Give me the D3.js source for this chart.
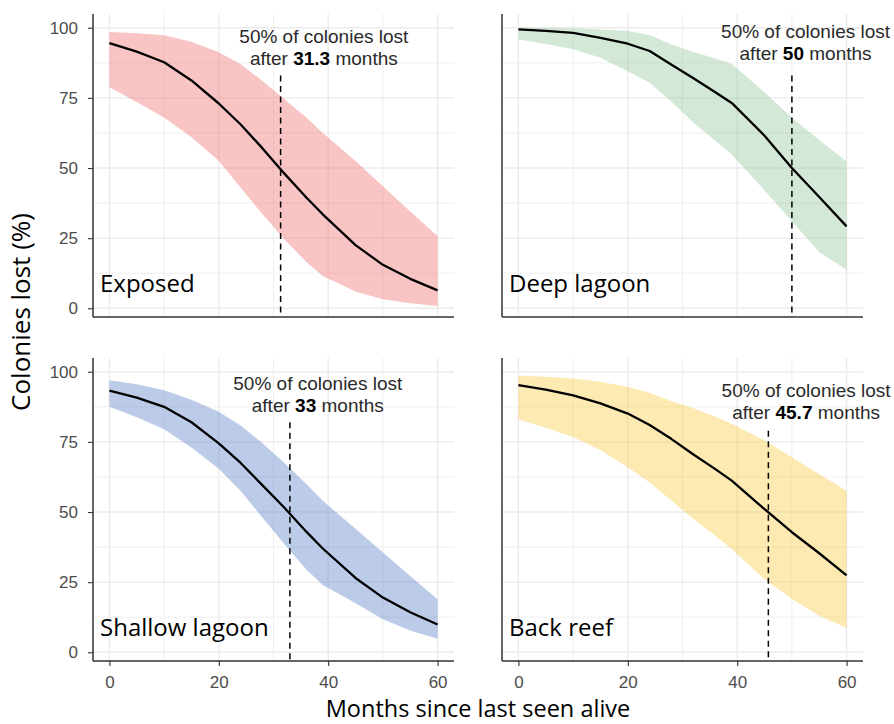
<!DOCTYPE html>
<html>
<head>
<meta charset="utf-8">
<script src="https://cdn.jsdelivr.net/npm/d3@7"></script>
<style>
  body { margin: 0; background: #fff; }
  svg { display: block; }
</style>
</head>
<body>
<svg id="chart" width="894" height="724"></svg>
<script>
// months at which the fitted curves were read
var months = [0, 5, 10, 15, 20, 24, 28, 32, 36, 39, 45, 50, 55, 60];

var habitats = ["Exposed", "Deep lagoon", "Shallow lagoon", "Back reef"];
var halfLife = [31.3, 50, 33, 45.7];

// % colonies lost: fitted value, lower and upper band
var exposedFit  = [94.5, 91.5, 87.7, 81.2, 73, 65.5, 57, 48, 39.5, 33.5, 22.5, 15.5, 10.5, 6.4];
var exposedLow  = [78.8, 73.5, 68, 61, 52.6, 43, 33.5, 24.5, 16.5, 11.5, 6, 3.2, 1.8, 0.8];
var exposedHigh = [98.5, 98, 97.3, 95, 91.3, 87, 81, 74.5, 68, 62.5, 52.5, 43.5, 34.5, 25.8];

var deepFit  = [99.4, 98.9, 98.2, 96.4, 94.3, 91.7, 86.8, 82, 77, 73.2, 61.5, 50, 39.7, 29.2];
var deepLow  = [95.8, 94.2, 92.3, 89.3, 84.5, 80.4, 73.6, 66.1, 59.7, 54.8, 42, 31, 20, 13.7];
var deepHigh = [100, 99.9, 99.8, 99.4, 98.8, 97.4, 94, 91.4, 89, 87.1, 77, 67.9, 60, 52.4];

var shallowFit  = [93.3, 90.8, 87.5, 82, 74.5, 67.5, 59.5, 51.5, 43, 37, 26.5, 19.5, 14.3, 9.9];
var shallowLow  = [87.5, 83.8, 79.5, 73, 65.4, 57.5, 48, 38.5, 29.5, 24, 17.5, 11.8, 7.8, 4.8];
var shallowHigh = [97, 95.5, 93.4, 90, 85.7, 80.8, 74.5, 67.5, 60, 54, 44, 35.6, 27.2, 18.9];

var backFit  = [95.2, 93.6, 91.6, 88.7, 85.1, 81, 76, 70.5, 65.3, 61.2, 51, 42.8, 35.3, 27.4];
var backLow  = [83.1, 80, 76.7, 72, 66, 60.5, 54, 47.5, 41.5, 36.8, 26, 19, 13, 8.7];
var backHigh = [98.6, 98.2, 97.6, 96.4, 94.6, 92.5, 89.5, 87, 84, 81.5, 75.5, 69.5, 63.5, 57.6];

var xTicks = [0, 20, 40, 60];
var yTicks = [0, 25, 50, 75, 100];

// ---- drawing ----
var chart = {};

chart.fills = ["rgba(238,108,108,0.4)", "rgba(145,198,153,0.4)",
               "rgba(88,128,198,0.4)", "rgba(250,200,62,0.4)"];
chart.fits = [exposedFit, deepFit, shallowFit, backFit];
chart.lows = [exposedLow, deepLow, shallowLow, backLow];
chart.highs = [exposedHigh, deepHigh, shallowHigh, backHigh];
// where the "50% of colonies lost" note sits (month, % for first line)
chart.noteX = [39.2, 52.5, 38.1, 52.6];
chart.noteY = [94.4, 96.4, 93.5, 91];
chart.dashTop = [83, 83, 82, 79];

chart.colLeft = [93, 502];
chart.rowTop = [14, 358];
chart.width = 361;
chart.height = 303;

chart.x = d3.scaleLinear().domain([-3, 63]).range([0, chart.width]);
chart.y = d3.scaleLinear().domain([-3.1, 104.9]).range([chart.height, 0]);

chart.svg = d3.select("#chart");

chart.drawPanel = function(i) {
    var col = i % 2, row = Math.floor(i / 2);
    var x = this.x, y = this.y, w = this.width, h = this.height;
    var g = this.svg.append("g")
        .attr("transform", `translate(${this.colLeft[col]}, ${this.rowTop[row]})`);

    // grid, minor first then major
    var grid = g.append("g").attr("stroke", "#ebebeb").attr("fill", "none");
    grid.selectAll(".xminor").data([10, 30, 50]).enter().append("line")
        .attr("x1", d => x(d)).attr("x2", d => x(d))
        .attr("y1", 0).attr("y2", h).attr("stroke-width", 0.8);
    grid.selectAll(".yminor").data([12.5, 37.5, 62.5, 87.5]).enter().append("line")
        .attr("y1", d => y(d)).attr("y2", d => y(d))
        .attr("x1", 0).attr("x2", w).attr("stroke-width", 0.8);
    grid.selectAll(".xmajor").data(xTicks).enter().append("line")
        .attr("x1", d => x(d)).attr("x2", d => x(d))
        .attr("y1", 0).attr("y2", h).attr("stroke-width", 1.4);
    grid.selectAll(".ymajor").data(yTicks).enter().append("line")
        .attr("y1", d => y(d)).attr("y2", d => y(d))
        .attr("x1", 0).attr("x2", w).attr("stroke-width", 1.4);

    var rows = months.map((m, k) => ({
        m: m, fit: this.fits[i][k], lo: this.lows[i][k], hi: this.highs[i][k]
    }));

    var area = d3.area()
        .x(d => x(d.m)).y0(d => y(d.lo)).y1(d => y(d.hi));
    g.append("path").datum(rows)
        .attr("d", area)
        .attr("fill", this.fills[i]);

    var line = d3.line()
        .x(d => x(d.m)).y(d => y(d.fit));
    g.append("path").datum(rows)
        .attr("d", line)
        .attr("fill", "none")
        .attr("stroke", "#000")
        .attr("stroke-width", 2.3)
        .attr("stroke-linejoin", "round");

    // half-life marker
    g.append("line")
        .attr("x1", x(halfLife[i])).attr("x2", x(halfLife[i]))
        .attr("y1", y(this.dashTop[i])).attr("y2", h)
        .attr("stroke", "#000")
        .attr("stroke-width", 1.5)
        .attr("stroke-dasharray", "6,4.5");

    var note = g.append("text")
        .attr("x", x(this.noteX[i]))
        .attr("y", y(this.noteY[i]))
        .attr("text-anchor", "middle")
        .style("font-family", "'Liberation Sans', Arial, sans-serif")
        .style("font-size", "19px")
        .attr("fill", "#2a2a2a");
    note.append("tspan").text("50% of colonies lost");
    var second = note.append("tspan")
        .attr("x", x(this.noteX[i])).attr("dy", 22);
    second.append("tspan").text("after ");
    second.append("tspan").text(halfLife[i])
        .style("font-weight", "bold").attr("fill", "#000");
    second.append("tspan").text(" months");

    // habitat name
    g.append("text")
        .attr("x", 7)
        .attr("y", y(0) - 16)
        .style("font-family", "'Open Sans', sans-serif")
        .style("font-size", "24px")
        .attr("fill", "#000")
        .text(habitats[i]);

    // axes: line on every panel, ticks and labels only on the outside
    var yAxis = d3.axisLeft(y).tickValues(col === 0 ? yTicks : [])
        .tickSize(5).tickSizeOuter(0).tickPadding(10);
    var xAxis = d3.axisBottom(x).tickValues(row === 1 ? xTicks : [])
        .tickSize(5).tickSizeOuter(0).tickPadding(10);

    var ya = g.append("g").call(yAxis);
    var xa = g.append("g").attr("transform", `translate(0, ${h})`).call(xAxis);
    [ya, xa].forEach(a => {
        a.select(".domain").attr("stroke", "#333").attr("stroke-width", 1.5);
        a.selectAll(".tick line").attr("stroke", "#333").attr("stroke-width", 1.1);
        a.selectAll(".tick text")
            .attr("fill", "#4d4d4d")
            .style("font-family", "'Liberation Sans', Arial, sans-serif")
            .style("font-size", "17px");
    });
    ya.select(".domain").attr("d", `M0,${h}V0`);
    xa.select(".domain").attr("d", `M0,0H${w}`);
};

chart.drawTitles = function() {
    this.svg.append("text")
        .attr("transform", "translate(30, 312) rotate(-90)")
        .attr("text-anchor", "middle")
        .style("font-family", "'Open Sans', sans-serif")
        .style("font-size", "26px")
        .attr("fill", "#000")
        .text("Colonies lost (%)");

    this.svg.append("text")
        .attr("x", 478)
        .attr("y", 717)
        .attr("text-anchor", "middle")
        .style("font-family", "'Open Sans', sans-serif")
        .style("font-size", "23.5px")
        .attr("fill", "#000")
        .text("Months since last seen alive");
};

habitats.forEach((h, i) => chart.drawPanel(i));
chart.drawTitles();
</script>
</body>
</html>
